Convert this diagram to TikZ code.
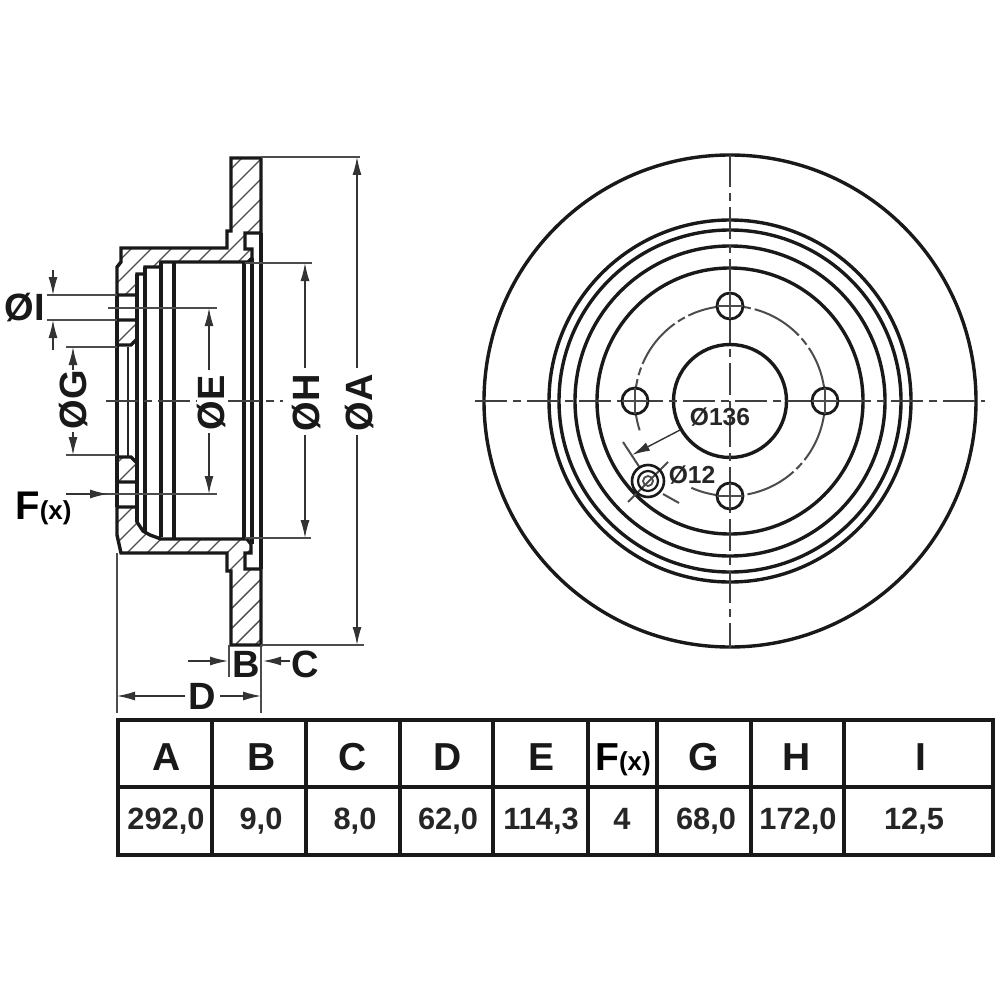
\documentclass[tikz,border=0pt]{standalone}
\usepackage{fontspec}
\setmainfont{Liberation Sans}
\usetikzlibrary{arrows.meta}
\newcommand{\fsz}[1]{\fontsize{#1}{#1}\selectfont\bfseries}
\tikzset{
  thickline/.style={line width=1.7pt,black!90},
  midline/.style={line width=1.2pt,black!85},
  thinline/.style={line width=0.8pt,black!70},
  hatchline/.style={line width=0.7pt,black!70},
  centre/.style={line width=0.9pt,black!75,dash pattern=on 16pt off 3pt on 4pt off 3pt},
  dimtip/.style={-{Latex[length=9pt,width=4.5pt]},line width=0.7pt,black!80},
  headcell/.style={font=\fsz{19.5},text=black!90,anchor=base,inner sep=0pt},
  valcell/.style={font=\fsz{15.4},text=black!85,anchor=base,inner sep=0pt},
  biglabel/.style={font=\fsz{19},text=black!90,anchor=center},
  smalllabel/.style={font=\fsz{12.3},text=black!85,anchor=center},
  grid/.style={line width=1.7pt,black!90}
}
\newcommand{\hatchfill}[1]{%
  \begin{scope}
    \clip #1;
    \foreach \c in {240,260,...,1000}{\draw[hatchline] (\c,0) -- (0,\c);}
  \end{scope}
  \draw[thickline,line join=miter] #1;
}
\begin{document}
\begin{tikzpicture}[x=0.5pt,y=-0.5pt]
\useasboundingbox (0,0) rectangle (1000,1000);
\fill[white] (0,0) rectangle (1000,1000);

% --- section view: vertical profile lines
\draw[midline] (128,347) -- (128,457);
\draw[thickline] (117,295) -- (117,507);
\draw[thickline] (137,274) -- (137,522);
\draw[thickline] (145,267) -- (145,531);
\draw[thickline] (161,262) -- (161,537);
\draw[thickline] (174,262) -- (174,539);
\draw[thickline] (244,262) -- (244,539);
\draw[thickline] (252,258) -- (252,544);
\draw[thickline] (261,233) -- (261,569);

% --- hatched sections
\hatchfill{(231,158) -- (261,158) -- (261,233) -- (245,233) -- (245,249) -- (252,249) -- (252,258) -- (248,262) -- (161,262) -- (161,267) -- (145,267) -- (145,274) -- (137,274) -- (137,295) -- (117,295) -- (117,267) -- (121,262) -- (121,248) -- (227,248) -- (227,231) -- (231,231) -- cycle}
\hatchfill{(231,645) -- (261,645) -- (261,569) -- (245,569) -- (245,553) -- (251,553) -- (251,544) -- (247,539) -- (161,539) -- (150,535) -- (143,531) -- (137,522) -- (137,507) -- (117,507) -- (117,535) -- (121,553) -- (227,553) -- (227,571) -- (231,571) -- cycle}
\hatchfill{(117,320) -- (137,320) -- (137,339) -- (131,345) -- (117,345) -- cycle}
\hatchfill{(117,482) -- (137,482) -- (137,463) -- (131,457) -- (117,457) -- cycle}

% --- section view: centre lines
\draw[centre] (106,401) -- (197,401);
\draw[centre] (228,401) -- (283,401);
\draw[thinline] (108,308) -- (217,308);
\draw[thinline] (66,494) -- (217,494);

% --- extension lines
\draw[thinline] (261,157) -- (360,157);
\draw[thinline] (261,645) -- (364,645);
\draw[thinline] (245,263) -- (312,263);
\draw[thinline] (245,538) -- (311,538);
\draw[thinline] (47,295) -- (117,295);
\draw[thinline] (47,320) -- (117,320);
\draw[thinline] (66,347) -- (117,347);
\draw[thinline] (66,455) -- (117,455);
\draw[thinline] (229,645) -- (229,677);
\draw[thinline] (261,645) -- (261,713);
\draw[thinline] (117,553) -- (117,713);

% --- dimension arrows
\draw[dimtip] (357,368) -- (357,157);
\draw[dimtip] (357,435) -- (357,645);
\draw[dimtip] (305,368) -- (305,263);
\draw[dimtip] (305,435) -- (305,538);
\draw[dimtip] (209,370) -- (209,308);
\draw[dimtip] (209,433) -- (209,494);
\draw[dimtip] (73,370) -- (73,347);
\draw[dimtip] (73,432) -- (73,455);
\draw[dimtip] (53,270) -- (53,295);
\draw[dimtip] (53,350) -- (53,320);
\draw[dimtip] (66,494) -- (108,494);
\draw[dimtip] (188,661) -- (228,661);
\draw[dimtip] (290,661) -- (263,661);
\draw[dimtip] (185,696) -- (117,696);
\draw[dimtip] (220,696) -- (261,696);

% --- section labels
\node[biglabel,rotate=90] (lA) at (360,403) {ØA};
\node[biglabel,rotate=90] (lH) at (307,403) {ØH};
\node[biglabel,rotate=90] (lE) at (212,403) {ØE};
\node[biglabel,rotate=90] (lG) at (74,400) {ØG};
\node[biglabel] (lI) at (25,308) {ØI};
\node[biglabel] (lB) at (246,664) {B};
\node[biglabel] (lC) at (305,664) {C};
\node[biglabel] (lD) at (202,696) {D};
\node[anchor=base west,inner sep=0pt] (lF) at (15,519) {\fsz{20}F\fsz{13}(x)};

% --- front view
\coordinate (c) at (730,401);
\draw[thickline] (c) circle (246);
\draw[thickline] (c) circle (181);
\draw[thickline] (c) circle (171);
\draw[thickline] (c) circle (155);
\draw[thickline] (c) circle (133);
\draw[thickline] (c) circle (56.5);
\draw[thinline,line width=1pt,dash pattern=on 26pt off 2pt on 4pt off 2pt] (c) ++(162:95) arc (162:474:95);
\draw[centre] (475,401) -- (985,401);
\draw[centre] (730,155) -- (730,648);
\foreach \n/\p in {hN/{730,306},hS/{730,496},hW/{635,401},hE/{825,401}}{
  \draw[thickline,line width=1.4pt,fill=white] (\p) circle (13);
  \draw[thinline,line width=1pt] (\p) ++(-13,0) -- ++(26,0);
  \draw[thinline,line width=1pt] (\p) ++(0,-13) -- ++(0,26);
}
\node[smalllabel] (l136) at (720,417) {Ø136};
\node[smalllabel] (l12) at (692,475) {Ø12};
\draw[dimtip] (680,430) -- (632,455);
\draw[thinline,line width=1pt] (623,442) -- (640,468);
\draw[thinline,line width=1pt] (663,494) -- (679,503);
\draw[thinline,line width=1pt] (628,502) -- (668,462);
\draw[thickline,line width=1.3pt] (648,481) circle (16);
\draw[thickline,line width=1.1pt] (648,481) circle (10);
\draw[thinline,line width=0.9pt] (648,481) circle (5);

% --- table
\draw[grid] (118,720) rectangle (993,855);
\draw[grid] (118,787) -- (993,787);
\foreach \x in {212,306,400,493,588,657,751,844}{\draw[grid] (\x,720) -- (\x,855);}
\foreach \n/\x/\h in {A/167/A,B/262/B,C/353/C,D/448/D,E/541/E,G/704/G,H/797/H,I/921/I}{
  \node[headcell] (t\n) at (\x,770) {\h};
}
\foreach \n/\x/\v in {A/166/{292,0},B/261/{9,0},C/355/{8,0},D/448/{62,0},E/541/{114,3},F/622/4,G/706/{68,0},H/798/{172,0},I/914/{12,5}}{
  \node[valcell] (v\n) at (\x,829) {\v};
}
\node[inner sep=0pt,anchor=base] (tF) at (623,770) {\fsz{19.5}F\fsz{13}(x)};
\end{tikzpicture}
\end{document}
